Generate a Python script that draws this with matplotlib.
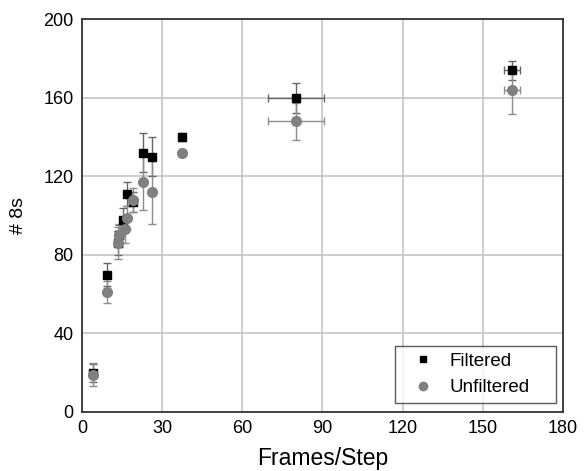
import numpy as np
import matplotlib.pyplot as plt

plt.rcParams['font.family'] = ['Liberation Sans', 'DejaVu Sans']

# Filtered series
x_filt = [4, 9.5, 13.5, 14, 15.5, 17, 19, 23, 26.2, 37.5, 80, 161]
y_filt = [20, 70, 86, 90, 98, 111, 107, 132, 130, 140, 160, 174]
yerr_filt = [4.5, 6, 6, 5, 6, 6, 5, 10, 10, 2, 7.5, 5]
xerr_filt = [0.5, 0.5, 0.5, 0.5, 0.5, 0.5, 0.5, 0.5, 0.5, 1, 10.4, 3]

# Unfiltered series
x_unf = [4, 9.5, 13.5, 14, 16, 17, 19, 23, 26.2, 37.5, 80, 161]
y_unf = [19, 61, 86, 90, 93, 99, 108, 117, 112, 132, 148, 164]
yerr_unf = [6, 5.5, 8, 6, 7, 6, 6, 14, 16, 1.5, 9.5, 12]
xerr_unf = [0.5, 0.5, 0.5, 0.5, 0.5, 0.5, 0.5, 0.5, 0.5, 1, 10.4, 3]

xticks = [0, 30, 60, 90, 120, 150, 180]
yticks = [0, 40, 80, 120, 160, 200]

fig = plt.figure(figsize=(5.84, 4.71), dpi=100)
ax = fig.add_axes([0.1404, 0.1253, 0.8236, 0.8337])

ax.errorbar(x_filt, y_filt, yerr=yerr_filt, xerr=xerr_filt, fmt='s', color='black',
            ms=6, ecolor='#666666', elinewidth=1, capsize=3, capthick=1,
            label='Filtered', zorder=3)
ax.errorbar(x_unf, y_unf, yerr=yerr_unf, xerr=xerr_unf, fmt='o', color='#808080',
            ms=7, ecolor='#8c8c8c', elinewidth=1, capsize=3, capthick=1,
            label='Unfiltered', zorder=3)

ax.set_xlim(0, 180)
ax.set_ylim(0, 200)
ax.set_xticks(xticks)
ax.set_yticks(yticks)
ax.grid(True, color='#c0c0c0', linewidth=1.1)
ax.set_axisbelow(True)
ax.tick_params(length=0, labelsize=13, pad=6)
for s in ax.spines.values():
    s.set_color('#333333')
    s.set_linewidth(1.3)

ax.set_xlabel('Frames/Step', fontsize=16.5, labelpad=7)
ax.set_ylabel('# 8s', fontsize=14, labelpad=12)

handles, labels = ax.get_legend_handles_labels()
h = [plt.Line2D([], [], marker='s', color='black', ls='none', ms=5),
     plt.Line2D([], [], marker='o', color='#808080', ls='none', ms=6)]
leg = ax.legend(h, labels, loc='lower left', bbox_to_anchor=(0.6505, 0.0229, 0.336, 0.1),
                mode='expand', borderaxespad=0, fontsize=13.5, frameon=True,
                fancybox=False, edgecolor='#333333',
                handlelength=2.28, handletextpad=0.3, labelspacing=0.5,
                borderpad=0.35)
leg.get_frame().set_linewidth(1.0)

fig.savefig('out.png', dpi=100)
